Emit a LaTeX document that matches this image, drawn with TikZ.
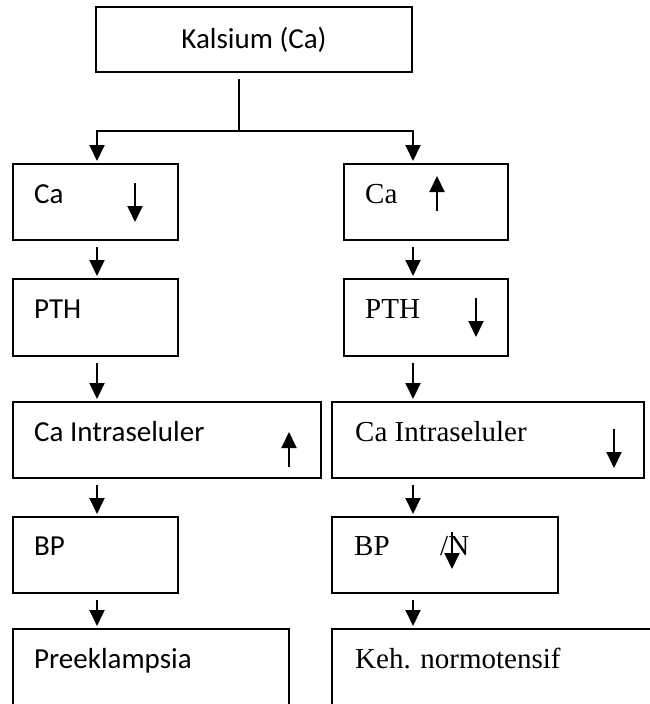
\documentclass[tikz,border=0pt]{standalone}
\usepackage{fontspec}
\setmainfont{Liberation Serif}
\newfontfamily\calfont{Carlito}
\usetikzlibrary{arrows.meta,calc}
\begin{document}
\begin{tikzpicture}[x=1pt,y=-1pt,
  box/.style={draw, line width=1.6pt, anchor=north west, inner sep=0pt, outer sep=0pt},
  lbl/.style={anchor=base west, inner sep=0pt, font=\fontsize{29}{34}\selectfont},
  cal/.style={anchor=base west, inner sep=0pt, font=\calfont\fontsize{29}{34}\selectfont},
  conn/.style={line width=1.9pt, -{Triangle[width=15pt,length=16pt]}},
  ind/.style={line width=1.9pt, -{Triangle[width=15pt,length=16pt]}}
]
\useasboundingbox (0,0) rectangle (650,704);
% boxes
\node[box, minimum width=316pt, minimum height=65pt] (top) at (96,7) {};
\node[box, minimum width=165pt, minimum height=76pt] (caL) at (13,164) {};
\node[box, minimum width=164pt, minimum height=76pt] (caR) at (344,164) {};
\node[box, minimum width=165pt, minimum height=77pt] (pthL) at (13,279) {};
\node[box, minimum width=164pt, minimum height=77pt] (pthR) at (344,279) {};
\node[box, minimum width=308pt, minimum height=76pt] (ciL) at (13,402) {};
\node[box, minimum width=312pt, minimum height=76pt] (ciR) at (332,402) {};
\node[box, minimum width=165pt, minimum height=76pt] (bpL) at (13,517) {};
\node[box, minimum width=226pt, minimum height=76pt] (bpR) at (332,517) {};
\node[box, minimum width=276pt, minimum height=95pt] (preL) at (13,629) {};
\node[box, minimum width=340pt, minimum height=95pt] (kehR) at (332,629) {};
% texts
\node[font=\calfont\fontsize{29}{34}\selectfont, inner sep=0pt] (tTop) at (top.center) {Kalsium (Ca)};
\node[cal] (tcaL) at (34,203) {Ca};
\node[cal] (tpthL) at (34,318) {PTH};
\node[cal] (tciL) at (34,441) {Ca Intraseluler};
\node[cal] (tbpL) at (34,555) {BP};
\node[cal] (tpreL) at (34,668) {Preeklampsia};
\node[lbl] (tcaR) at (365,203) {Ca};
\node[lbl] (tpthR) at (365,318) {PTH};
\node[lbl] (tciR) at (355,441) {Ca Intraseluler};
\node[lbl] (tbpR) at (354,555) {BP};
\node[lbl] (tnR) at (440,555) {/N};
\node[lbl] (tkehR) at (355,668) {Keh. normotensif};
% connectors
\coordinate (split) at (239,131);
\coordinate (colL) at (97,0);
\coordinate (colR) at (413,0);
\draw[line width=1.9pt, shorten <=7pt] (top.south -| split) -- (split);
\draw[conn, shorten >=3pt] (split) -| (caL.north -| colL);
\draw[conn, shorten >=3pt] (split) -| (caR.north -| colR);
\foreach \a/\b in {caL/pthL, pthL/ciL, ciL/bpL, bpL/preL}
  \draw[conn, shorten <=7pt, shorten >=3pt] (\a.south -| colL) -- (\b.north -| colL);
\foreach \a/\b in {caR/pthR, pthR/ciR, ciR/bpR, bpR/kehR}
  \draw[conn, shorten <=7pt, shorten >=3pt] (\a.south -| colR) -- (\b.north -| colR);
% indicator arrows
\draw[ind] (135,183) -- (135,222);
\draw[ind] (437,211) -- (437,176);
\draw[ind] (476,298) -- (476,337);
\draw[ind] (289,467) -- (289,432);
\draw[ind] (614,429) -- (614,468);
\draw[ind] (452,532) -- (452,569);
\end{tikzpicture}
\end{document}
